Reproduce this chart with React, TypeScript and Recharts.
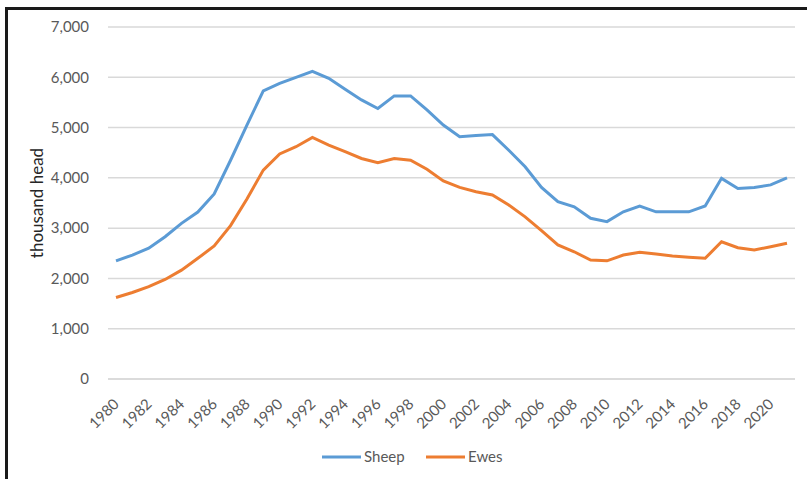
import React from 'react';
import { LineChart, Line, XAxis, YAxis, CartesianGrid, Legend } from 'recharts';

const years = [
  1980, 1981, 1982, 1983, 1984, 1985, 1986, 1987, 1988, 1989, 1990, 1991, 1992, 1993,
  1994, 1995, 1996, 1997, 1998, 1999, 2000, 2001, 2002, 2003, 2004, 2005, 2006, 2007,
  2008, 2009, 2010, 2011, 2012, 2013, 2014, 2015, 2016, 2017, 2018, 2019, 2020, 2021,
];

const sheep = [
  2350, 2465, 2600, 2830, 3095, 3320, 3680, 4350, 5050, 5730, 5880, 6000, 6120, 5980,
  5760, 5550, 5380, 5630, 5630, 5350, 5050, 4820, 4840, 4860, 4550, 4220, 3810, 3525,
  3425, 3195, 3130, 3325, 3440, 3325, 3325, 3325, 3440, 3990, 3790, 3810, 3860, 4000,
];

const ewes = [
  1620, 1720, 1835, 1980, 2165, 2400, 2645, 3050, 3580, 4155, 4475, 4620, 4805, 4650,
  4520, 4385, 4300, 4385, 4350, 4170, 3940, 3810, 3725, 3660, 3460, 3225, 2950, 2665,
  2530, 2365, 2350, 2465, 2520, 2485, 2445, 2420, 2400, 2730, 2610, 2565, 2630, 2700,
];

const yTicks = [0, 1000, 2000, 3000, 4000, 5000, 6000, 7000];

const data = years.map((y, i) => ({ year: y, Sheep: sheep[i], Ewes: ewes[i] }));

const FONT = 'Lato, "Open Sans", sans-serif';
const TEXT = '#595959';

const XTick = (props: any) => {
  const { x, y, payload } = props;
  return (
    <text
      x={x + 4}
      y={y + 18}
      transform={`rotate(-45, ${x + 4}, ${y + 18})`}
      textAnchor="end"
      fill={TEXT}
      fontSize={15}
      fontFamily={FONT}
    >
      {payload.value}
    </text>
  );
};

const LegendBox = () => (
  <svg width={807} height={44}>
    <line x1={322} y1={22} x2={361} y2={22} stroke="#5B9BD5" strokeWidth={3} />
    <text x={364} y={27} fill={TEXT} fontSize={15} fontFamily={FONT}>Sheep</text>
    <line x1={426} y1={22} x2={465} y2={22} stroke="#ED7D31" strokeWidth={3} />
    <text x={468} y={27} fill={TEXT} fontSize={15} fontFamily={FONT}>Ewes</text>
  </svg>
);

export default function App() {
  return (
    <div style={{ position: 'absolute', left: 0, top: 0, width: 807, height: 479, background: '#fff' }}>
      <div
        style={{
          position: 'absolute',
          left: 5,
          top: 7,
          right: 0,
          bottom: 0,
          borderLeft: '3px solid #1a1a1a',
          borderTop: '3px solid #1a1a1a',
        }}
      />
      <LineChart
        width={807}
        height={479}
        data={data}
        margin={{ top: 27, right: 12, bottom: 0, left: 0 }}
      >
        <CartesianGrid vertical={false} stroke="#D9D9D9" strokeWidth={1.5} />
        <XAxis
          dataKey="year"
          interval={1}
          padding={{ left: 8, right: 8 }}
          tickLine={false}
          axisLine={{ stroke: '#D9D9D9', strokeWidth: 1.5 }}
          tick={<XTick />}
          height={56}
        />
        <YAxis
          width={108}
          domain={[0, 7000]}
          ticks={yTicks}
          tickLine={false}
          axisLine={false}
          tickMargin={13}
          tickFormatter={(v: number) => v.toLocaleString('en-US')}
          tick={{ fill: TEXT, fontSize: 15, fontFamily: FONT }}
          label={() => (
            <text
              x={43}
              y={203}
              transform="rotate(-90, 43, 203)"
              textAnchor="middle"
              fill="#262626"
              fontSize={17}
              fontFamily={FONT}
            >
              thousand head
            </text>
          )}
        />
        <Legend verticalAlign="bottom" height={44} content={<LegendBox />} />
        <Line
          type="linear"
          dataKey="Sheep"
          stroke="#5B9BD5"
          strokeWidth={3}
          dot={false}
          isAnimationActive={false}
        />
        <Line
          type="linear"
          dataKey="Ewes"
          stroke="#ED7D31"
          strokeWidth={3}
          dot={false}
          isAnimationActive={false}
        />
      </LineChart>
    </div>
  );
}
